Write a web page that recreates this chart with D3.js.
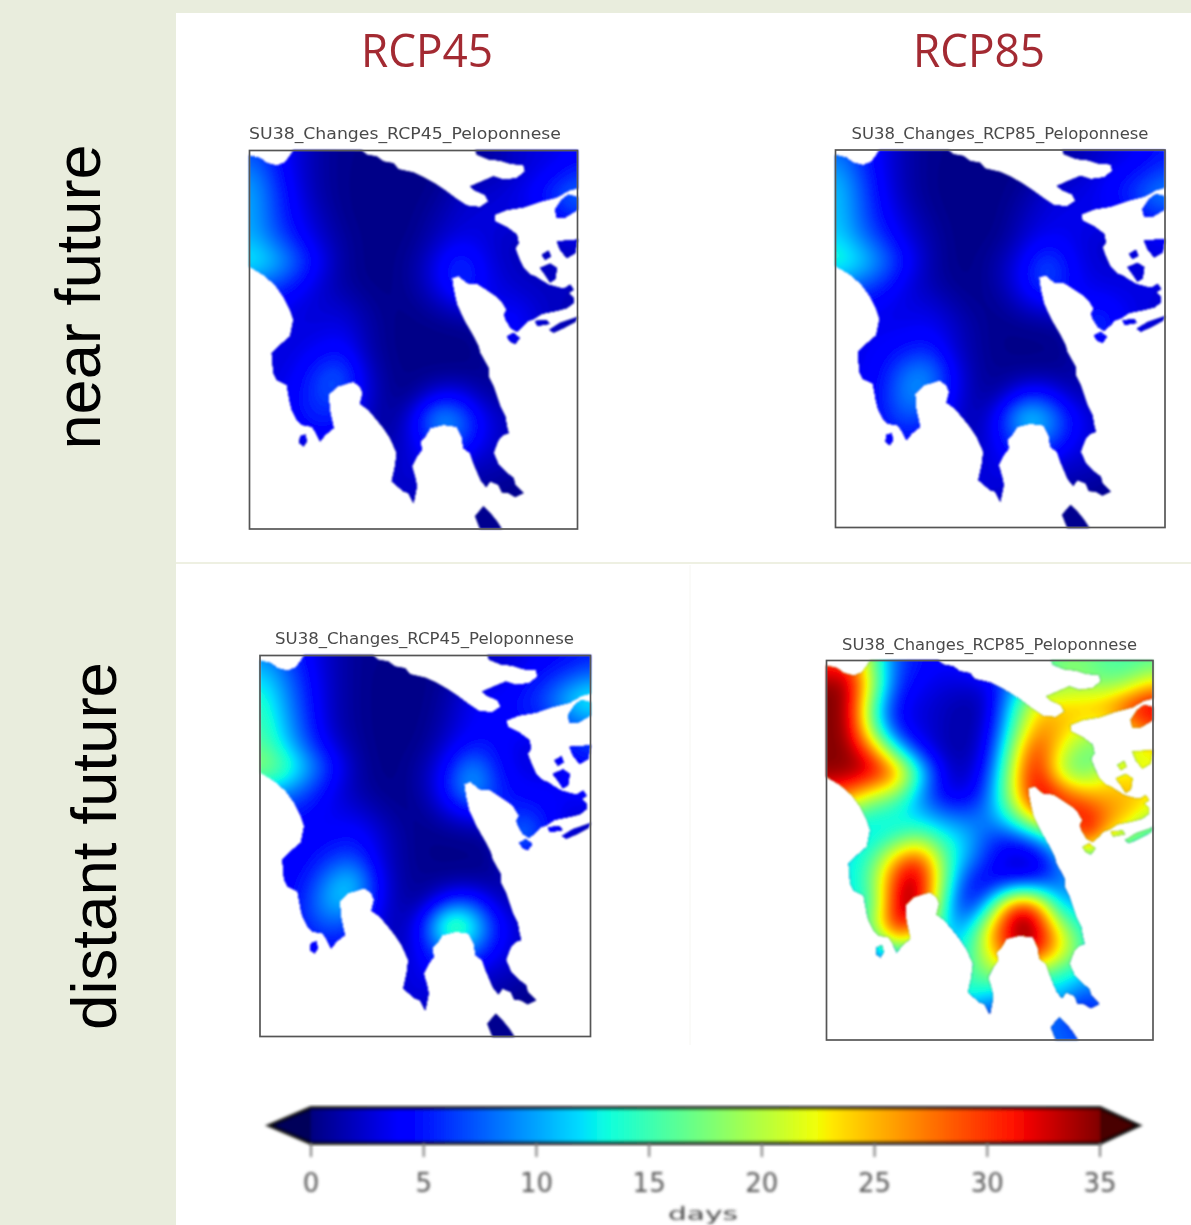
<!DOCTYPE html>
<html><head><meta charset="utf-8">
<script src="https://cdn.jsdelivr.net/npm/d3@7/dist/d3.min.js"></script>
<style>html,body{margin:0;padding:0;background:#e9eddd;overflow:hidden}svg{display:block}</style>
</head><body><svg id="c" width="1191" height="1225"></svg>
<script>
// grid of days per panel: 15 columns west to east, 18 rows north to south
const nearRcp45 = [
[7,5,3,1.2,.5,.5,.5,.5,.5,.5,.8,2,3,3,4],
[10,6,3,1.2,.5,.3,.3,.3,.5,.8,1.5,2,3,4,6],
[11,7,3.5,1.2,.5,.3,.3,.3,.6,2.5,2.5,3,4,7,9],
[11,7,4,2,.5,.3,.3,.3,1.5,2.5,3,3,3,4,6],
[11,8,5,2.5,1,.3,.3,.5,2,3.5,3,2,2,2,3],
[14,12,8,4,1,.3,.3,1,3.5,7,3.5,2,2,2,2],
[8,7,5,2.5,1,.4,.3,1,3.5,7,4,2.5,2,2,2],
[4,4,3,2.5,2.5,1,.4,.5,1.5,3,3,4,3,2,2],
[3,3,3,3,3.5,1.5,.4,.3,.3,.4,.6,6,3,2,1],
[3,3,3,4,5,1.5,.4,.3,.3,.3,.5,3,2,2,2],
[3,3,3.5,7,8,2.5,.5,.4,.4,.4,.5,1,1,1,1],
[3,3,4.5,7,7,3,.5,.5,3.5,4,1,1,1,1,1],
[3,3,4.5,6,5,2,.5,3.5,12,9,3.5,2,1,1,1],
[3,3,3,4,3,2,1,3.5,7,8,3,2,1,1,1],
[2,2,2,2,2,2,2,3,3.5,2.5,2,2,1,1,1],
[2,2,2,2,2,2,2.5,2.5,2,1.5,1.2,.5,.5,.5,.5],
[1,1,1,1,1,1,2,2,1,.5,.5,.5,.5,.5,.5],
[.5,.5,.5,.5,.5,.5,.5,.5,.5,.5,.5,.5,.5,.5,.5]];
const nearRcp85 = [
[8,6,3.5,1.5,.5,.5,.5,.5,.5,.5,1.2,2,3,3.5,5],
[11,7,3.5,1.5,.5,.3,.3,.3,.5,1.2,2,3,4,5,7],
[12,8,4,1.5,.5,.3,.3,.3,1,3,3,3.5,5,8,10],
[12,8,4.5,2.5,.8,.3,.3,.3,2,3,3.5,3.5,3.5,4.5,6],
[12.5,9,6,3,1.5,.3,.3,.5,2.5,4,3.5,2.5,2.5,3,4],
[15,13,9,5,1.5,.3,.4,1.5,4,8,4,2.5,2.5,3,3],
[9,8,6,3,1.5,.5,.4,1.5,4.5,8,4.5,3,3,3,3],
[5,4,3.5,3,3,1.5,.5,.6,2.5,3.5,3.5,5,4,3,3],
[3.5,3.5,3.5,3.5,4,2.5,1,.4,.4,.5,1,8,4,3,2],
[3.5,3.5,4,5,6,2.5,1,.4,.4,.4,.6,4,3,3,3],
[3.5,3.5,4.5,9,10,4,1,.6,.6,.6,.8,2,2,2,2],
[3.5,3.5,5,10,9,4,1,1,5,5,1.5,1.5,1,1,1],
[3.5,3.5,5,8,6,3,1,5,14,11,5,2.5,1.5,1,1],
[3,3,4,5,4,2.5,1.5,4.5,9,9,4,2.5,1.5,1,1],
[2.5,2.5,2.5,2.5,2.5,2.5,2.5,3.5,4,3,2.5,2.5,1.5,1,1],
[2,2,2,2,2,2,3,3,2.5,2,1.5,1,.5,.5,.5],
[1,1,1,1,1,1,2.5,2.5,1,.5,.5,.5,.5,.5,.5],
[.5,.5,.5,.5,.5,.5,.5,.5,.5,.5,.5,.5,.5,.5,.5]];
const farRcp45 = [
[9,7,4,2,.8,.5,.5,.5,1,2,2.5,3,4,4,5],
[13,9,5,2,.8,.3,.3,.3,1,2.5,3,4,5,7,9],
[15,10,5.5,2,.8,.3,.3,.3,1.5,4,4,5,7,12,15],
[16,11,6,2,.8,.3,.3,.4,2,4,4.5,4.5,5,7,9],
[17,12,7,3,1,.3,.3,.6,3,5,4.5,3,3,5,7],
[20,17,11,6,1.5,.3,.4,1.5,5,11,5,3,3,3.5,4],
[11,10,7,3.5,1.5,.5,.4,1.5,6,12,6,4,4,4,5],
[6,5,4.5,3.5,3,1.5,.5,.6,3,4.5,4.5,6,5,3,3],
[4,4,4,4,5,3,1,.4,.4,.5,1,12,5,3,1],
[4,4,4,6,7,3,1,.4,.4,.4,.6,5,3,2,2],
[4,4,5,10,13,4,1,.6,.6,.6,.8,2,2,1,1],
[4,4,6,12,11,4,1,1,6,7,2,1.5,1,1,1],
[4,4,6,8,6,3,1,6,21,15,5,2.5,1.5,1,1],
[3,3,4,5,4,2.5,1.5,5,11,10,4,2.5,1.5,1,1],
[2.5,2.5,2.5,2.5,2.5,2.5,2.5,4,4,3,2.5,2,1,1,1],
[2,2,2,2,2,2,3,3,2.5,2,1.5,.6,.5,.5,.5],
[1,1,1,1,1,1,2.5,2.5,1,.5,.5,.5,.5,.5,.5],
[.5,.5,.5,.5,.5,.5,.5,.5,.5,.5,.5,.5,.5,.5,.5]];
const farRcp85 = [
[28,30,16,7,5,4,5,8,10,14,18,18,16,15,15],
[35,35,20,6,4,3,3,3,9,15,18,18,16,18,24],
[35,35,14,4,3,2,1,2,13,24,24,25,27,32,35],
[35,35,15,4,3,2,1,3,15,27,26,22,20,25,30],
[35,35,28,12,4,1.5,1,4,19,33,22,17,16,20,23],
[35,35,35,30,14,3,1.5,6,22,35,18,15,22,23,22],
[30,28,20,18,9,3,2.5,8,22,35,32,26,25,26,23],
[16,14,13,12,11,9,8,9,16,27,30,34,28,24,20],
[13,12,12,15,19,14,12,6,4,8,14,35,22,18,12],
[12,12,16,28,34,17,10,5,2,1.5,8,14,10,10,10],
[12,12,17,33,35,18,4,3,4,5,8,10,10,10,10],
[12,12,14,35,35,14,2.5,12,35,32,9,12,10,10,10],
[12,13,19,35,26,12,9,26,35,35,22,13,10,10,10],
[4,4,8,15,12,12,13,24,33,35,24,16,10,10,10],
[8,8,8,8,8,12,15,19,19,16,14,13,10,10,10],
[8,8,8,8,8,10,15,11,10,10,12,6,8,8,8],
[6,6,6,6,6,6,7,5,6,8,8,2,8,8,8],
[6,6,6,6,6,6,6,6,6,8,8,8,8,8,8]];

const panelValues = [nearRcp45, nearRcp85, farRcp45, farRcp85];
const panelTitles = ["SU38_Changes_RCP45_Peloponnese","SU38_Changes_RCP85_Peloponnese","SU38_Changes_RCP45_Peloponnese","SU38_Changes_RCP85_Peloponnese"];
const colHeaders = ["RCP45","RCP85"];
const rowHeaders = ["near future","distant future"];
const cbarTicks = [0,5,10,15,20,25,30,35];
const cbarLabel = "days";

// coast outlines in map units (x 28-1012, y 92-1228)
const mainland = [[28,108],[60,115],[80,130],[110,138],[135,128],[150,108],[160,92],[365,92],[380,105],[410,110],[430,125],[460,130],[475,148],[520,158],[550,172],[585,192],[615,212],[650,238],[680,258],[720,262],[745,245],[735,225],[705,212],[690,200],[720,187],[760,170],[790,180],[830,175],[855,155],[850,135],[812,132],[780,122],[745,118],[710,104],[706,92],[1012,92],[1012,205],[985,212],[950,232],[900,245],[850,262],[800,270],[762,285],[765,305],[800,322],[830,345],[835,370],[825,385],[830,400],[838,420],[850,445],[870,465],[885,470],[900,480],[925,495],[960,505],[975,505],[990,495],[1000,510],[985,520],[1000,535],[1000,550],[980,565],[950,573],[905,582],[880,598],[862,604],[850,618],[830,635],[812,625],[797,600],[792,585],[800,570],[785,545],[770,530],[740,510],[712,492],[682,490],[655,468],[635,475],[640,510],[650,555],[672,602],[700,650],[715,680],[720,700],[745,745],[745,770],[760,800],[770,830],[780,860],[795,890],[800,920],[805,940],[790,945],[775,960],[765,985],[760,1000],[775,1035],[800,1060],[820,1075],[825,1095],[850,1120],[825,1132],[805,1120],[785,1118],[775,1095],[750,1085],[738,1102],[722,1082],[700,1030],[690,1000],[670,985],[665,950],[650,920],[610,915],[570,925],[555,950],[540,965],[545,990],[530,1010],[515,1040],[525,1075],[530,1100],[520,1150],[505,1120],[490,1115],[455,1085],[465,1040],[470,1000],[450,955],[430,925],[410,900],[385,870],[360,852],[368,820],[360,800],[340,785],[290,800],[265,825],[268,870],[280,925],[255,945],[240,965],[225,935],[215,920],[185,915],[170,900],[155,870],[150,850],[140,795],[110,780],[100,760],[95,700],[115,680],[150,650],[160,600],[150,570],[130,530],[105,495],[70,465],[28,440]];
const islandAegina = [[985,225],[1012,232],[1012,270],[975,292],[950,292],[945,270],[965,240]];
const islandSalamis = [[950,365],[1012,360],[1005,400],[980,415],[960,390]];
const islandSpot1 = [[905,405],[925,393],[932,410],[915,420]];
const islandSpot2 = [[900,445],[930,432],[950,445],[945,478],[930,488],[915,465]];
const islandHydra = [[928,630],[960,610],[1012,592],[1005,606],[970,625],[940,638]];
const islandSpetses = [[800,650],[820,640],[838,655],[825,672],[810,665]];
const islandSapientza = [[180,950],[195,945],[200,965],[190,980],[178,970]];
const islandKythira = [[705,1190],[730,1160],[750,1180],[770,1205],[785,1228],[720,1228]];
const islandStripe = [[885,604],[920,602],[928,612],[892,618]];
const coasts = [mainland, islandAegina, islandSalamis, islandSpot1, islandSpot2, islandHydra, islandSpetses, islandSapientza, islandKythira, islandStripe];

// frames and labels placed per panel [left,right,top,bottom, title y]
const frames = [[249.5,577.5,150.5,529],[835.5,1165,150,527.5],[260,590.5,655.5,1036.5],[826.5,1153,660.5,1040]];
const titleY = [139,139,644,650];
const titleX = [405,1000,424.5,989.5];
const titleLen = [312,297,299,295];

const jetStops = [0,.11,.125,.34,.35,.375,.64,.65,.66,.89,.91,1];
const jetR = [0,0,0,0,0,.05,.94,.97,1,1,.93,.5];
const jetG = [0,0,0,.86,.9,1,1,.96,.91,.07,0,0];
const jetB = [.5,1,1,1,.97,.87,.03,0,0,0,0,0];

const days = d3.scaleLinear().domain([0,35]).range([0,1]);
const rS = d3.scaleLinear().domain(jetStops).range(jetR);
const gS = d3.scaleLinear().domain(jetStops).range(jetG);
const bS = d3.scaleLinear().domain(jetStops).range(jetB);
const jet = v => { const t = Math.max(0,Math.min(1,days(v)));
  return d3.rgb(rS(t)*255,gS(t)*255,bS(t)*255).formatHex(); };

const svg = d3.select("#c");
const defs = svg.append("defs");
[["b1",0.9],["b2",1.5],["b3",0.6]].forEach(([id,s])=>defs.append("filter").attr("id",id)
  .attr("x","-10%").attr("y","-10%").attr("width","120%").attr("height","120%")
  .append("feGaussianBlur").attr("stdDeviation",s));

svg.append("rect").attr("width",1191).attr("height",1225).attr("fill","#e9eddd");
svg.append("rect").attr("x",176).attr("y",13).attr("width",1015).attr("height",1212).attr("fill","#fff");
svg.append("line").attr("x1",176).attr("x2",1191).attr("y1",563).attr("y2",563).attr("stroke","#eef0e2").attr("stroke-width",2);
svg.append("line").attr("x1",690).attr("x2",690).attr("y1",565).attr("y2",1045).attr("stroke","#f6f6f2");

const UP = 5;
const lerp = (a,b,t)=>a+(b-a)*t;
function upsample(grid){
  const rows=grid.length, cols=grid[0].length;
  const w=(cols-1)*UP+1, h=(rows-1)*UP+1, data=new Float64Array(w*h);
  for(let j=0;j<h;j++)for(let i=0;i<w;i++){
    const fx=i/UP, fy=j/UP, x0=Math.min(cols-2,Math.floor(fx)), y0=Math.min(rows-2,Math.floor(fy));
    const tx=fx-x0, ty=fy-y0;
    data[j*w+i]=lerp(lerp(grid[y0][x0],grid[y0][x0+1],tx),lerp(grid[y0+1][x0],grid[y0+1][x0+1],tx),ty);
  }
  d3.blur2({data,width:w,height:h},2);
  return {data,w,h};
}

panelValues.forEach((grid,k)=>{
  const [L,R,T,B]=frames[k];
  const x=d3.scaleLinear().domain([28,1012]).range([L,R]);
  const y=d3.scaleLinear().domain([92,1228]).range([T,B]);
  const line=d3.line().x(d=>x(d[0])).y(d=>y(d[1])).curve(d3.curveLinearClosed);
  const id="land"+k;
  const cp=defs.append("clipPath").attr("id",id);
  cp.append("path").attr("d",coasts.map(c=>line(c)).join(""));
  const {data,w,h}=upsample(grid);
  const thresholds=d3.range(-0.25,35.5,0.25);
  const cs=d3.contours().size([w,h]).thresholds(thresholds).smooth(true)(data);
  const gx=d3.scaleLinear().domain([0.5,w-0.5]).range([L,R]);
  const gy=d3.scaleLinear().domain([0.5,h-0.5]).range([T,B]);
  const path=d3.geoPath(d3.geoTransform({point(px,py){this.stream.point(gx(px),gy(py));}}));
  const outer=svg.append("g").attr("filter","url(#b1)");
  const land=outer.append("g").attr("clip-path",`url(#${id})`);
  land.selectAll("path").data(cs).join("path")
    .attr("d",path).attr("fill",d=>jet(d.value));
  if(k===3){
    outer.append("path").attr("d",coasts.map(c=>line(c)).join("")).attr("fill","none")
      .attr("stroke","#333").attr("stroke-opacity",.35).attr("stroke-width",.7);
  }
  svg.append("rect").attr("x",L).attr("y",T).attr("width",R-L).attr("height",B-T)
    .attr("fill","none").attr("stroke","#555").attr("stroke-width",1.7).attr("filter","url(#b3)");
  svg.append("text").attr("x",titleX[k]).attr("y",titleY[k]).attr("text-anchor","middle")
    .attr("font-family","DejaVu Sans").attr("font-size",15).attr("fill","#4a4a4a")
    .attr("textLength",titleLen[k]).attr("lengthAdjust","spacingAndGlyphs")
    .attr("filter","url(#b3)").text(panelTitles[k]);
});

// column and row headers
[427,979].forEach((cx,i)=>svg.append("text").attr("x",cx).attr("y",67).attr("text-anchor","middle")
  .attr("font-family","Open Sans").attr("font-size",45).attr("fill","#a32a33")
  .attr("textLength",132).attr("lengthAdjust","spacingAndGlyphs").attr("filter","url(#b3)").text(colHeaders[i]));
[[100,297,305],[116,846,368]].forEach(([bx,cy,len],i)=>svg.append("text")
  .attr("transform",`translate(${bx},${cy}) rotate(-90)`).attr("text-anchor","middle")
  .attr("font-family","Liberation Sans").attr("font-size",63).attr("fill","#000")
  .attr("textLength",len).attr("lengthAdjust","spacingAndGlyphs").text(rowHeaders[i]));

// colour bar
const cx=d3.scaleLinear().domain([0,35]).range([311,1100]);
const barTop=1108, barBot=1143, barMid=1125.5;
const grad=defs.append("linearGradient").attr("id","jetGrad").attr("gradientUnits","userSpaceOnUse")
  .attr("x1",cx(0)).attr("x2",cx(35)).attr("y1",0).attr("y2",0);
d3.range(0,35.01,0.35).forEach(v=>grad.append("stop").attr("offset",days(v)).attr("stop-color",jet(v)));
const cb=svg.append("g").attr("filter","url(#b2)");
const outline=`M${cx(0)},${barTop}L${cx(35)},${barTop}L1138,${barMid}L${cx(35)},${barBot}L${cx(0)},${barBot}L270,${barMid}Z`;
cb.append("path").attr("d",outline).attr("fill","url(#jetGrad)");
cb.append("path").attr("d",`M${cx(0)},${barTop}L270,${barMid}L${cx(0)},${barBot}Z`).attr("fill","#00005a");
cb.append("path").attr("d",`M${cx(35)},${barTop}L1138,${barMid}L${cx(35)},${barBot}Z`).attr("fill","#4a0000");
cb.append("path").attr("d",outline).attr("fill","none").attr("stroke","#000").attr("stroke-opacity",.85).attr("stroke-width",4);
const axis=svg.append("g").attr("filter","url(#b2)");
cbarTicks.forEach(t=>{
  axis.append("line").attr("x1",cx(t)).attr("x2",cx(t)).attr("y1",barBot).attr("y2",1157).attr("stroke","#777").attr("stroke-width",2);
  axis.append("text").attr("x",cx(t)).attr("y",1192).attr("text-anchor","middle")
    .attr("font-family","DejaVu Sans").attr("font-size",26).attr("fill","#555").text(t);
});
axis.append("text").attr("x",703).attr("y",1220).attr("text-anchor","middle")
  .attr("font-family","DejaVu Sans").attr("font-size",17).attr("fill","#444")
  .attr("textLength",70).attr("lengthAdjust","spacingAndGlyphs").text(cbarLabel);
</script></body></html>
